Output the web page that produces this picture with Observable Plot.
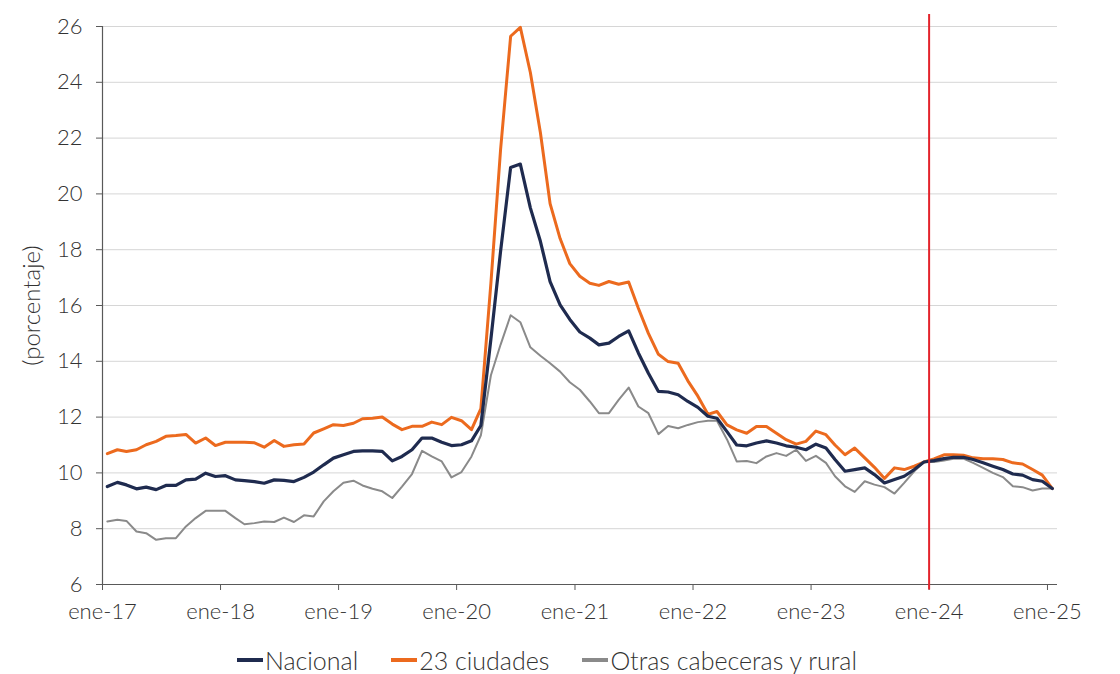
<!DOCTYPE html>
<html>
<head>
<meta charset="utf-8">
<script src="https://cdn.jsdelivr.net/npm/d3@7"></script>
<script src="https://cdn.jsdelivr.net/npm/@observablehq/plot@0.6"></script>
<style>
  html, body { margin: 0; padding: 0; background: #fff; }
  #chart { width: 1120px; }
  .legend { display: flex; justify-content: center; align-items: center; gap: 33px;
            font-family: Lato, sans-serif; font-weight: 300; font-size: 25px; color: #333;
            height: 30px; padding-top: 10px; margin-left: -26px; }
  .legend .item { display: flex; align-items: center; }
  .legend .sw { display: inline-block; width: 26px; height: 4px; margin-right: 2px; }
</style>
</head>
<body>
<div id="chart"></div>
<script>
// ---- Data (monthly, ene-2017 .. ene-2025) ----
const startYear = 2017;
const xTickLabels = ["ene-17","ene-18","ene-19","ene-20","ene-21","ene-22","ene-23","ene-24","ene-25"];
const yTicks = [6, 8, 10, 12, 14, 16, 18, 20, 22, 24, 26];
const seriesNames = ["Nacional", "23 ciudades", "Otras cabeceras y rural"];
const seriesColors = ["#1f2b4f", "#ec6a1e", "#8a8a8a"];

const nacional = [
  9.51, 9.66, 9.57, 9.43, 9.49, 9.40, 9.55, 9.55, 9.75, 9.78, 9.99, 9.87,
  9.90, 9.75, 9.72, 9.69, 9.63, 9.75, 9.73, 9.69, 9.84, 10.03, 10.29, 10.53,
  10.65, 10.77, 10.79, 10.79, 10.77, 10.43, 10.59, 10.83, 11.25, 11.25, 11.10, 10.98,
  11.01, 11.15, 11.70, 14.80, 17.95, 20.95, 21.07, 19.50, 18.30, 16.86, 16.02, 15.50,
  15.05, 14.83, 14.59, 14.65, 14.89, 15.09, 14.30, 13.57, 12.92, 12.90, 12.80, 12.56,
  12.35, 12.03, 11.96, 11.48, 11.00, 10.97, 11.07, 11.15, 11.07, 10.97, 10.92, 10.83,
  11.03, 10.89, 10.48, 10.06, 10.12, 10.18, 9.94, 9.64, 9.76, 9.88, 10.12, 10.39,
  10.44, 10.51, 10.56, 10.56, 10.48, 10.36, 10.24, 10.12, 9.96, 9.92, 9.76, 9.70,
  9.44
];
const ciudades23 = [
  10.69, 10.83, 10.77, 10.83, 11.01, 11.13, 11.31, 11.34, 11.38, 11.07, 11.25, 10.98,
  11.10, 11.10, 11.10, 11.08, 10.92, 11.16, 10.95, 11.01, 11.04, 11.43, 11.58, 11.73,
  11.70, 11.78, 11.94, 11.96, 12.00, 11.75, 11.55, 11.67, 11.67, 11.82, 11.73, 11.99,
  11.87, 11.55, 12.30, 16.80, 21.60, 25.65, 25.97, 24.35, 22.20, 19.65, 18.40, 17.50,
  17.05, 16.80, 16.72, 16.86, 16.76, 16.84, 15.90, 15.00, 14.25, 13.99, 13.93, 13.30,
  12.75, 12.10, 12.20, 11.72, 11.54, 11.42, 11.66, 11.66, 11.42, 11.19, 11.03, 11.13,
  11.50, 11.37, 11.00, 10.65, 10.89, 10.54, 10.20, 9.80, 10.18, 10.12, 10.24, 10.39,
  10.50, 10.65, 10.65, 10.63, 10.54, 10.51, 10.51, 10.48, 10.36, 10.32, 10.12, 9.92,
  9.44
];
const otras = [
  8.26, 8.32, 8.28, 7.90, 7.84, 7.60, 7.66, 7.66, 8.08, 8.38, 8.64, 8.64,
  8.64, 8.38, 8.16, 8.20, 8.26, 8.24, 8.40, 8.24, 8.48, 8.44, 8.98, 9.34,
  9.65, 9.72, 9.55, 9.43, 9.34, 9.10, 9.51, 9.96, 10.79, 10.59, 10.41, 9.84,
  10.03, 10.59, 11.35, 13.50, 14.60, 15.65, 15.40, 14.50, 14.20, 13.93, 13.63, 13.25,
  12.98, 12.56, 12.14, 12.14, 12.62, 13.06, 12.38, 12.14, 11.39, 11.68, 11.60, 11.72,
  11.82, 11.87, 11.87, 11.20, 10.41, 10.43, 10.35, 10.59, 10.71, 10.61, 10.83, 10.43,
  10.61, 10.36, 9.88, 9.52, 9.32, 9.70, 9.58, 9.49, 9.26, 9.64, 10.06, 10.39,
  10.39, 10.44, 10.51, 10.51, 10.36, 10.18, 10.00, 9.85, 9.52, 9.49, 9.37, 9.44,
  9.44
];

// ---- Build table ----
const seriesValues = [nacional, ciudades23, otras];
const dates = nacional.map((_, i) => new Date(Date.UTC(startYear, i, 16)));
const rows = [];
seriesValues.forEach((vals, s) => vals.forEach((v, i) => rows.push({date: dates[i], value: v, serie: seriesNames[s]})));
const tickDates = xTickLabels.map((_, k) => new Date(Date.UTC(startYear + k, 0, 1)));
const breakDate = new Date(Date.UTC(2024, 0, 1));
const axisColor = "#595959";

const chart = Plot.plot({
  width: 1120,
  height: 635,
  marginLeft: 102,
  marginRight: 63,
  marginTop: 26,
  marginBottom: 51,
  style: {fontFamily: "Lato, sans-serif", fontWeight: 300, fontSize: "22px", color: "#333", background: "#fff", overflow: "visible"},
  x: {type: "utc", domain: [new Date(Date.UTC(startYear, 0, 1)), new Date(Date.UTC(2025, 1, 1))]},
  y: {domain: [6, 26]},
  marks: [
    Plot.gridY(yTicks.filter(d => d > 6), {stroke: "#d6d6d6", strokeOpacity: 1, strokeWidth: 1}),
    Plot.axisY({ticks: yTicks, tickSize: 6, tickPadding: 14, label: null, stroke: axisColor}),
    Plot.axisX({ticks: tickDates, tickFormat: d => xTickLabels[d.getUTCFullYear() - startYear], tickSize: 6, tickPadding: 13, label: null, stroke: axisColor}),
    Plot.ruleY([6], {stroke: axisColor, strokeWidth: 1.2}),
    Plot.ruleX([tickDates[0]], {y1: 6, y2: 26, stroke: axisColor, strokeWidth: 1.2}),
    Plot.line(rows.filter(d => d.serie === seriesNames[2]), {x: "date", y: "value", stroke: seriesColors[2], strokeWidth: 2, curve: "linear"}),
    Plot.line(rows.filter(d => d.serie === seriesNames[1]), {x: "date", y: "value", stroke: seriesColors[1], strokeWidth: 3, curve: "linear"}),
    Plot.line(rows.filter(d => d.serie === seriesNames[0]), {x: "date", y: "value", stroke: seriesColors[0], strokeWidth: 3.2, curve: "linear"}),
    Plot.ruleX([breakDate], {y1: 5.8, y2: 26.43, stroke: "#e3232b", strokeWidth: 2}),
    Plot.text(["(porcentaje)"], {frameAnchor: "left", dx: -70, rotate: -90, textAnchor: "middle", fill: "#333", fontSize: 24, fontWeight: 300})
  ]
});
document.getElementById("chart").appendChild(chart);

// ---- Legend ----
const legend = document.createElement("div");
legend.className = "legend";
seriesNames.forEach((name, i) => {
  const item = document.createElement("div");
  item.className = "item";
  const sw = document.createElement("span");
  sw.className = "sw";
  sw.style.background = seriesColors[i];
  const t = document.createElement("span");
  t.textContent = name;
  item.appendChild(sw);
  item.appendChild(t);
  legend.appendChild(item);
});
document.body.appendChild(legend);
</script>
</body>
</html>
